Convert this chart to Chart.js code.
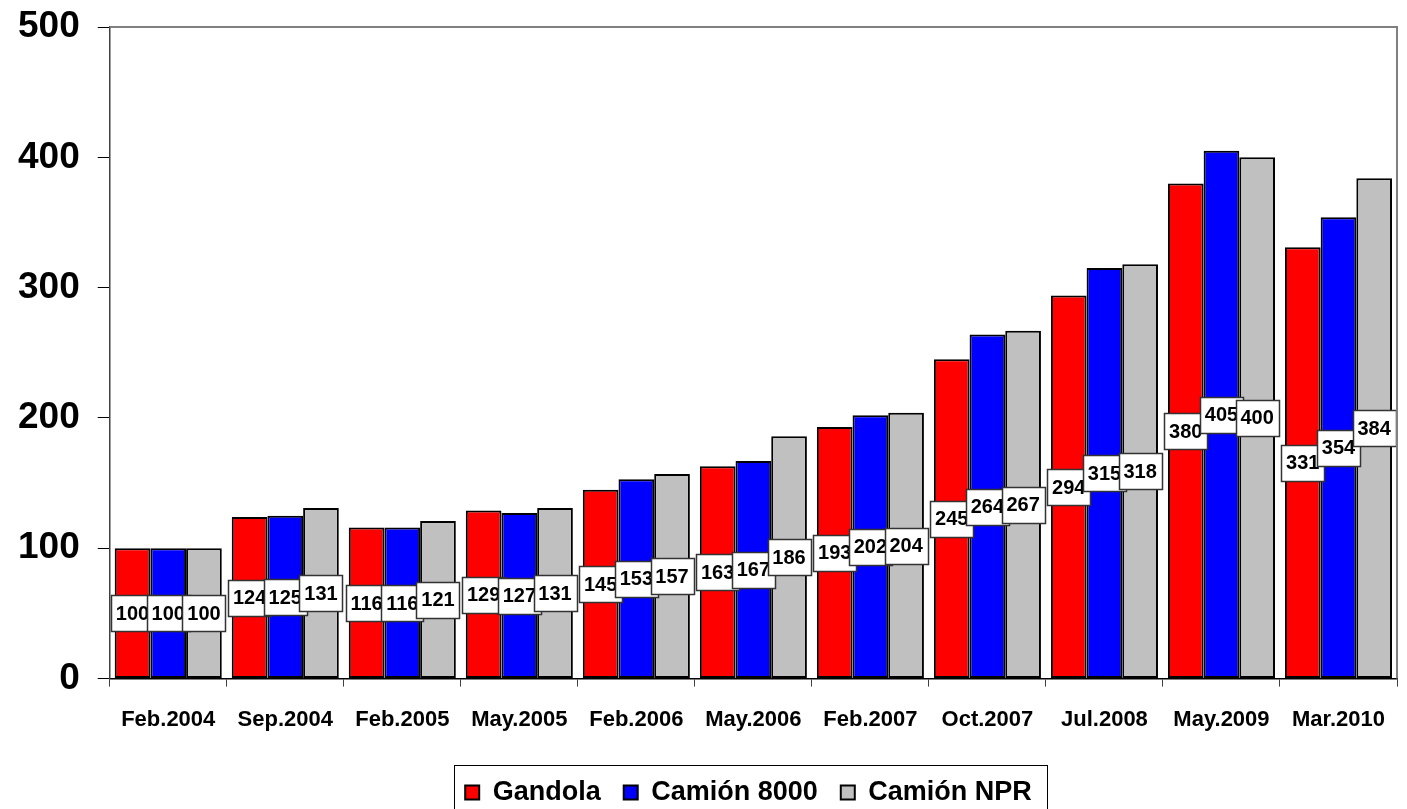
<!DOCTYPE html>
<html>
<head>
<meta charset="utf-8">
<script src="https://cdn.jsdelivr.net/npm/chart.js@4.4.1/dist/chart.umd.min.js"></script>
<style>
  html, body { margin: 0; padding: 0; background: #fff; }
  #wrap { width: 1407px; height: 809px; }
</style>
</head>
<body>
<div id="wrap"><canvas id="mycanvas" width="1407" height="809"></canvas></div>
<script>
var labels = ['Feb.2004', 'Sep.2004', 'Feb.2005', 'May.2005', 'Feb.2006', 'May.2006', 'Feb.2007', 'Oct.2007', 'Jul.2008', 'May.2009', 'Mar.2010'];
var gandola = [100, 124, 116, 129, 145, 163, 193, 245, 294, 380, 331];
var camion8000 = [100, 125, 116, 127, 153, 167, 202, 264, 315, 405, 354];
var camionNPR = [100, 131, 121, 131, 157, 186, 204, 267, 318, 400, 384];
var yTicks = [0, 100, 200, 300, 400, 500];

var FONT = "'Liberation Sans', Arial, sans-serif";

// white boxes with the value, placed halfway up each bar
var valueBoxes = {
  id: 'valueBoxes',
  afterDatasetsDraw: function(chart) {
    var ctx = chart.ctx;
    var y0 = chart.scales.y.getPixelForValue(0);
    ctx.save();
    ctx.font = 'bold 20px ' + FONT;
    ctx.textAlign = 'center';
    ctx.textBaseline = 'middle';
    var n = chart.data.labels.length;
    for (var i = 0; i < n; i++) {
      chart.data.datasets.forEach(function(ds, d) {
        var bar = chart.getDatasetMeta(d).data[i];
        var v = ds.data[i];
        var cy = (bar.y + y0) / 2;
        var w = Math.round(ctx.measureText(String(v)).width + 10);
        var h = 36;
        var x = Math.round(bar.x - w / 2), y = Math.round(cy - h / 2);
        ctx.fillStyle = '#fff';
        ctx.fillRect(x, y, w, h);
        ctx.strokeStyle = '#333';
        ctx.lineWidth = 1.5;
        ctx.strokeRect(x + 0.5, y + 0.5, w, h);
        ctx.fillStyle = '#000';
        ctx.fillText(String(v), bar.x, cy + 1);
      });
    }
    ctx.restore();
  }
};

var SHIFT = 50;

// move legend a bit right, like the original
var legendShift = {
  id: 'legendShift',
  afterLayout: function(chart) {
    var lg = chart.legend;
    lg.left += SHIFT;
    lg.right += SHIFT;
  }
};

// grey frame on top and right of the plot, and a box round the legend
var frames = {
  id: 'frames',
  afterDraw: function(chart) {
    var ctx = chart.ctx;
    var a = chart.chartArea;
    ctx.save();
    ctx.strokeStyle = '#808080';
    ctx.lineWidth = 2;
    ctx.beginPath();
    ctx.moveTo(a.left, a.top);
    ctx.lineTo(a.right, a.top);
    ctx.lineTo(a.right, a.bottom);
    ctx.stroke();

    var lg = chart.legend;
    var rowW = lg.lineWidths ? lg.lineWidths[0] : 560;
    var cx = (lg.left + lg.right) / 2;
    var pad = lg.options.labels.padding;
    var fs = lg.options.labels.font.size;
    var mid = lg.top + pad + fs / 2;
    ctx.strokeStyle = '#000';
    ctx.lineWidth = 1;
    ctx.strokeRect(Math.round(cx - rowW / 2) + 0.5, Math.round(mid - 28) + 0.5, Math.round(rowW + 3), 80);
    ctx.restore();
  }
};

var chardata = {
  labels: labels,
  datasets: [
    { label: 'Gandola', data: gandola, backgroundColor: '#FF0000', borderColor: '#000', borderWidth: 2, borderSkipped: false },
    { label: 'Camión 8000', data: camion8000, backgroundColor: '#0000FF', borderColor: '#000', borderWidth: 2, borderSkipped: false },
    { label: 'Camión NPR', data: camionNPR, backgroundColor: '#C0C0C0', borderColor: '#000', borderWidth: 2, borderSkipped: false }
  ]
};

var ctx = document.getElementById('mycanvas');
var BarGraph = new Chart(ctx, {
  type: 'bar',
  data: chardata,
  plugins: [valueBoxes, legendShift, frames],
  options: {
    responsive: false,
    animation: false,
    layout: { padding: { top: 0, right: 10, left: 0, bottom: -7 } },
    datasets: { bar: { categoryPercentage: 0.915, barPercentage: 1.0 } },
    scales: {
      x: {
        offset: true,
        afterFit: function(scale) { scale.height += 3; },
        grid: { offset: true, drawOnChartArea: false, tickLength: 8, color: '#000', tickColor: '#404040' },
        border: { color: '#000', width: 1.5 },
        ticks: { color: '#000', font: { family: FONT, size: 22, weight: 'bold' }, padding: 20, maxRotation: 0 }
      },
      y: {
        min: 0,
        max: 500,
        afterBuildTicks: function(scale) {
          scale.ticks = yTicks.map(function(v) { return { value: v }; });
        },
        afterFit: function(scale) { scale.paddingTop = 27; },
        grid: { drawOnChartArea: false, tickLength: 12, color: '#000' },
        border: { color: '#404040', width: 1.5 },
        ticks: { color: '#000', font: { family: FONT, size: 37, weight: 'bold', lineHeight: 1 }, padding: 18 }
      }
    },
    plugins: {
      tooltip: { enabled: false },
      legend: {
        position: 'bottom',
        labels: {
          color: '#000',
          font: { family: FONT, size: 27, weight: 'bold' },
          boxWidth: 14,
          boxHeight: 14,
          padding: 23
        }
      }
    }
  }
});
</script>
</body>
</html>
